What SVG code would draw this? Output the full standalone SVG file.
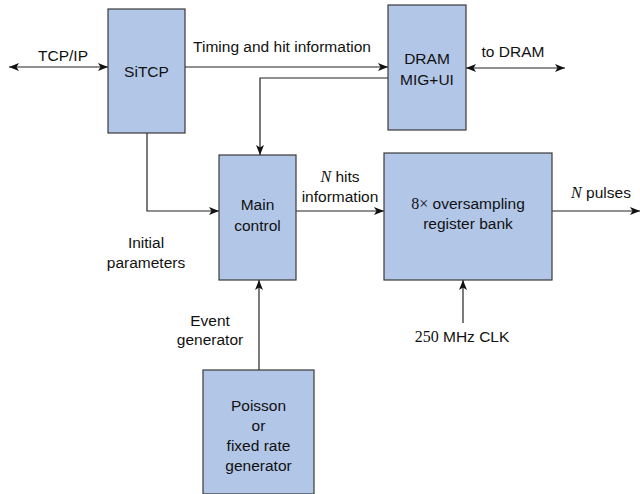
<svg xmlns="http://www.w3.org/2000/svg" width="640" height="494" viewBox="0 0 640 494">
  <style>
    .box { fill: #b2c6e8; stroke: #3a3a3a; stroke-width: 1.2; }
    .lbl { font-family: "Liberation Sans", Arial, sans-serif; font-size: 15.5px; fill: #111; text-anchor: middle; }
    .math { font-family: "Liberation Serif", "Times New Roman", serif; font-size: 16px; }
    .it { font-style: italic; }
    .wire { fill: none; stroke: #222; stroke-width: 1.2; }
  </style>
  <defs>
    <marker id="arr" viewBox="0 0 10 8" refX="10" refY="4" markerWidth="10" markerHeight="8" markerUnits="userSpaceOnUse" orient="auto-start-reverse">
      <path d="M0,0 L10,4 L0,8 L2.5,4 Z" fill="#111"/>
    </marker>
  </defs>

  <g id="connectors">
    <path class="wire" d="M9,67 H108" marker-start="url(#arr)" marker-end="url(#arr)"/>
    <path class="wire" d="M185,67 H388" marker-end="url(#arr)"/>
    <path class="wire" d="M466,68 H565" marker-start="url(#arr)" marker-end="url(#arr)"/>
    <path class="wire" d="M388,78 H260 V155" marker-end="url(#arr)"/>
    <path class="wire" d="M147,133 V211 H219" marker-end="url(#arr)"/>
    <path class="wire" d="M296,211 H384" marker-end="url(#arr)"/>
    <path class="wire" d="M552,211 H640" marker-end="url(#arr)"/>
    <path class="wire" d="M463,323 V280" marker-end="url(#arr)"/>
    <path class="wire" d="M259,370 V280" marker-end="url(#arr)"/>
  </g>

  <g id="sitcp">
    <rect class="box" x="108" y="9" width="77" height="124"/>
    <text class="lbl" x="146.5" y="77">SiTCP</text>
  </g>

  <g id="dram">
    <rect class="box" x="388" y="5" width="78" height="125"/>
    <text class="lbl" x="427" y="64">DRAM</text>
    <text class="lbl" x="427" y="85">MIG+UI</text>
  </g>

  <g id="main-control">
    <rect class="box" x="219" y="155" width="77" height="125"/>
    <text class="lbl" x="257.5" y="210">Main</text>
    <text class="lbl" x="257.5" y="231">control</text>
  </g>

  <g id="register-bank">
    <rect class="box" x="384" y="153" width="168" height="127"/>
    <text class="lbl" x="468" y="209"><tspan class="math">8×</tspan> oversampling</text>
    <text class="lbl" x="468" y="229">register bank</text>
  </g>

  <g id="event-generator">
    <rect class="box" x="203" y="370" width="111" height="124"/>
    <text class="lbl" x="258.5" y="411">Poisson</text>
    <text class="lbl" x="258.5" y="431">or</text>
    <text class="lbl" x="258.5" y="451">fixed rate</text>
    <text class="lbl" x="258.5" y="471">generator</text>
  </g>

  <g id="labels">
    <text class="lbl" x="63" y="61">TCP/IP</text>
    <text class="lbl" x="282" y="52">Timing and hit information</text>
    <text class="lbl" x="513" y="57">to DRAM</text>
    <text class="lbl" x="340" y="182"><tspan class="math it">N</tspan> hits</text>
    <text class="lbl" x="340" y="202">information</text>
    <text class="lbl" x="601" y="198"><tspan class="math it">N</tspan> pulses</text>
    <text class="lbl" x="146" y="248">Initial</text>
    <text class="lbl" x="146" y="268">parameters</text>
    <text class="lbl" x="210" y="326">Event</text>
    <text class="lbl" x="210" y="345">generator</text>
    <text class="lbl" x="462" y="342"><tspan class="math">250</tspan> MHz CLK</text>
  </g>
</svg>
